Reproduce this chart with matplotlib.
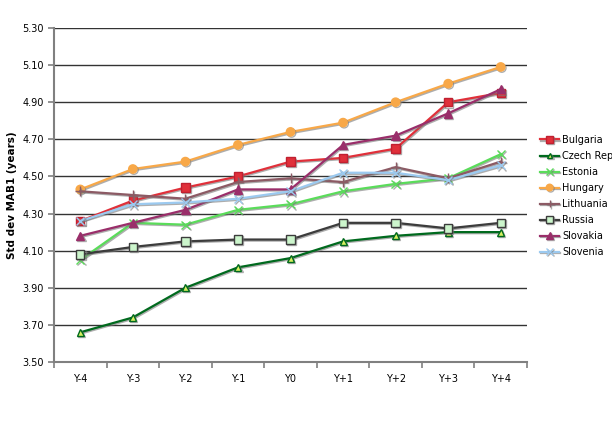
import matplotlib
matplotlib.use("Agg")
import matplotlib.pyplot as plt
import matplotlib.patheffects as pe
import numpy as np

categories = ["Y-4", "Y-3", "Y-2", "Y-1", "Y0", "Y+1", "Y+2", "Y+3", "Y+4"]

bulgaria = [4.26, 4.37, 4.44, 4.50, 4.58, 4.60, 4.65, 4.90, 4.95]
czech = [3.66, 3.74, 3.90, 4.01, 4.06, 4.15, 4.18, 4.20, 4.20]
estonia = [4.05, 4.25, 4.24, 4.32, 4.35, 4.42, 4.46, 4.49, 4.62]
hungary = [4.43, 4.54, 4.58, 4.67, 4.74, 4.79, 4.90, 5.00, 5.09]
lithuania = [4.42, 4.40, 4.38, 4.47, 4.49, 4.47, 4.55, 4.49, 4.58]
russia = [4.08, 4.12, 4.15, 4.16, 4.16, 4.25, 4.25, 4.22, 4.25]
slovakia = [4.18, 4.25, 4.32, 4.43, 4.43, 4.67, 4.72, 4.84, 4.97]
slovenia = [4.26, 4.35, 4.36, 4.38, 4.42, 4.52, 4.52, 4.48, 4.56]

# (label, values, line colour, marker, marker face, marker edge, marker size)
series = [
    ("Bulgaria", bulgaria, "#E0303A", "s", "#E0303A", "#C02030", 6),
    ("Czech Rep", czech, "#006A1E", "^", "#D8F060", "#006A1E", 5),
    ("Estonia", estonia, "#5ADC5A", "x", "#5ADC5A", "#5ADC5A", 6),
    ("Hungary", hungary, "#F8A848", "o", "#F8A848", "#F8A848", 6),
    ("Lithuania", lithuania, "#8C5A64", "+", "#8C5A64", "#8C5A64", 7),
    ("Russia", russia, "#3C3C3C", "s", "#CCF5CC", "#3C3C3C", 6),
    ("Slovakia", slovakia, "#9A2E6A", "^", "#9A2E6A", "#9A2E6A", 6),
    ("Slovenia", slovenia, "#9CCAF0", "x", "#9CCAF0", "#9CCAF0", 6),
]

plt.rcParams["font.family"] = "DejaVu Sans"

fig = plt.figure(figsize=(6.12, 4.28), dpi=100)
ax = fig.add_axes([54 / 612, 1 - 362 / 428, 473 / 612, 334 / 428])

x = np.arange(len(categories))
shadow = [pe.SimpleLineShadow(offset=(0.8, -0.8), shadow_color="#777777", alpha=0.6), pe.Normal()]

for label, vals, col, mk, mfc, mec, ms in series:
    ax.plot(x, vals, color=col, lw=1.6, marker=mk, markersize=ms,
            markerfacecolor=mfc, markeredgecolor=mec, markeredgewidth=1.0,
            label=label, path_effects=shadow)

ax.set_ylim(3.50, 5.30)
ax.set_yticks(np.arange(3.50, 5.31, 0.20))
ax.set_yticklabels([f"{v:.2f}" for v in np.arange(3.50, 5.31, 0.20)], fontsize=7)
ax.yaxis.grid(True, color="#333333", lw=1.0)
ax.set_axisbelow(True)

ax.set_xlim(-0.5, len(categories) - 0.5)
ax.set_xticks(np.arange(-0.5, len(categories), 1.0))
ax.set_xticklabels([])
ax.set_xticks(x, minor=True)
ax.set_xticklabels(categories, minor=True, fontsize=7)
ax.tick_params(axis="x", which="minor", length=0, pad=9)
ax.tick_params(axis="both", which="major", length=4, color="#808080", width=1.2)

for s in ["top", "right"]:
    ax.spines[s].set_visible(False)
for s in ["left", "bottom"]:
    ax.spines[s].set_color("#808080")
    ax.spines[s].set_linewidth(1.5)

ax.set_ylabel("Std dev MAB1 (years)", fontsize=7.5, fontweight="bold", labelpad=4)

fig.legend(loc="upper left", bbox_to_anchor=(536 / 612, 1 - 131 / 428),
           frameon=False, fontsize=7, handlelength=2.0, handletextpad=0.3,
           labelspacing=0.62, borderaxespad=0, markerscale=0.8)

fig.savefig("out.png", dpi=100)
